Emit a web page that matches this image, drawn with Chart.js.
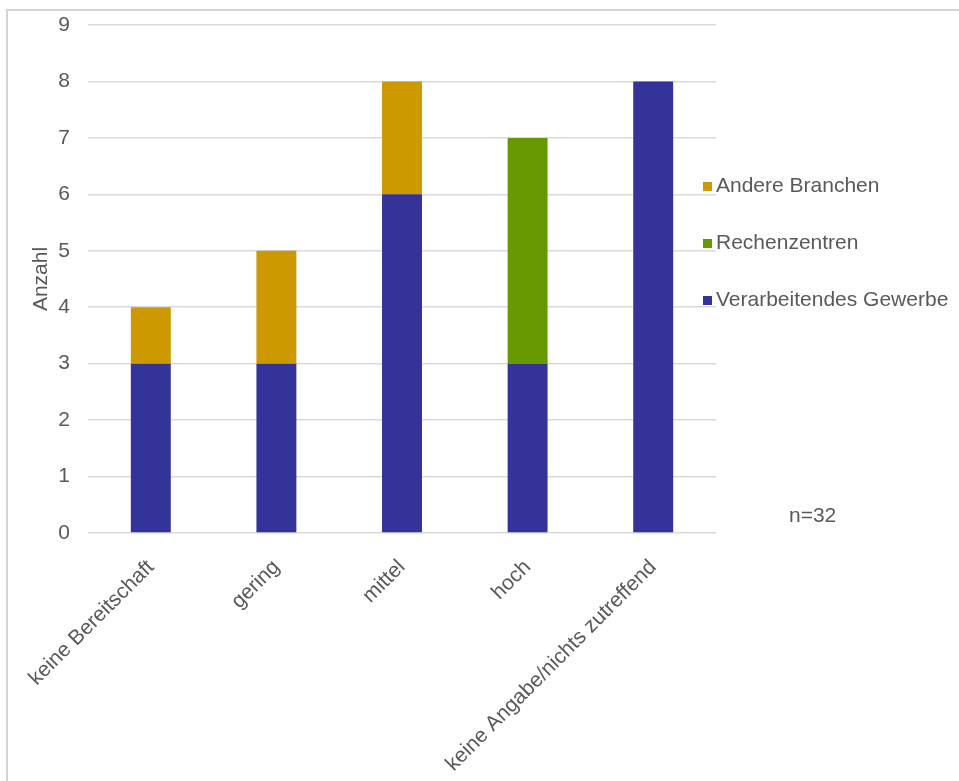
<!DOCTYPE html>
<html>
<head>
<meta charset="utf-8">
<script src="https://cdn.jsdelivr.net/npm/chart.js@4"></script>
<style>
  html, body { margin: 0; padding: 0; background: #fff; }
  #frame { position: absolute; left: 6px; top: 9px; right: 0; bottom: 0;
           border-top: 2px solid #d4d4d4; border-left: 2px solid #d4d4d4; }
  #wrap { position: absolute; left: 0; top: 0; width: 959px; height: 781px; }
</style>
</head>
<body>
<div id="frame"></div>
<div id="wrap"><canvas id="chart"></canvas></div>
<script>
  // categories and counts per sector
  var labels = ['keine Bereitschaft', 'gering', 'mittel', 'hoch', 'keine Angabe/nichts zutreffend'];
  var verarbeitend = [3, 3, 6, 3, 8];
  var rechenzentren = [0, 0, 0, 4, 0];
  var andere = [1, 2, 2, 0, 0];
  var yTicks = [0, 1, 2, 3, 4, 5, 6, 7, 8, 9];

  var textColor = '#595959';
  var font = 'Liberation Sans, Arial, sans-serif';

  var legendItems = [
    { text: 'Andere Branchen', color: '#cc9900' },
    { text: 'Rechenzentren', color: '#669900' },
    { text: 'Verarbeitendes Gewerbe', color: '#333399' }
  ];

  var extras = {
    id: 'extras',
    afterDraw: function (chart) {
      var ctx = chart.ctx;
      var area = chart.chartArea;
      ctx.save();
      ctx.font = '21px ' + font;
      ctx.textBaseline = 'middle';
      ctx.textAlign = 'left';
      legendItems.forEach(function (item, i) {
        var y = 186 + i * 57;
        ctx.fillStyle = item.color;
        ctx.fillRect(area.right - 13, y - 4, 9, 9);
        ctx.fillStyle = textColor;
        ctx.fillText(item.text, area.right, y);
      });
      ctx.fillText('n=32', 789, 516);
      ctx.restore();
    }
  };

  new Chart(document.getElementById('chart'), {
    type: 'bar',
    data: {
      labels: labels,
      datasets: [
        { label: 'Verarbeitendes Gewerbe', data: verarbeitend, backgroundColor: '#333399' },
        { label: 'Rechenzentren', data: rechenzentren, backgroundColor: '#669900' },
        { label: 'Andere Branchen', data: andere, backgroundColor: '#cc9900' }
      ]
    },
    options: {
      responsive: true,
      maintainAspectRatio: false,
      animation: false,
      layout: { padding: { top: 25, right: 243, left: 0, bottom: 0 } },
      datasets: { bar: { categoryPercentage: 1, barPercentage: 0.318 } },
      plugins: { legend: { display: false }, tooltip: { enabled: false } },
      scales: {
        x: {
          stacked: true,
          grid: { display: false },
          border: { display: false },
          ticks: { color: textColor, font: { family: font, size: 21 }, minRotation: 45, maxRotation: 45, padding: 14 },
          afterFit: function (scale) { scale.height = 248; scale.paddingLeft = 0; scale.paddingRight = 0; }
        },
        y: {
          stacked: true,
          min: 0,
          max: 9,
          afterBuildTicks: function (scale) {
            scale.ticks = yTicks.map(function (v) { return { value: v }; });
          },
          grid: { color: '#d9d9d9', lineWidth: 1.5, drawTicks: false },
          border: { display: false },
          ticks: { color: textColor, font: { family: font, size: 21 }, padding: 18 },
          title: { display: true, text: 'Anzahl', color: textColor, font: { family: font, size: 21 }, padding: { top: 29, bottom: 0 } },
          afterFit: function (scale) { scale.width = 88; scale.paddingTop = 0; scale.paddingBottom = 0; }
        }
      }
    },
    plugins: [extras]
  });
</script>
</body>
</html>
